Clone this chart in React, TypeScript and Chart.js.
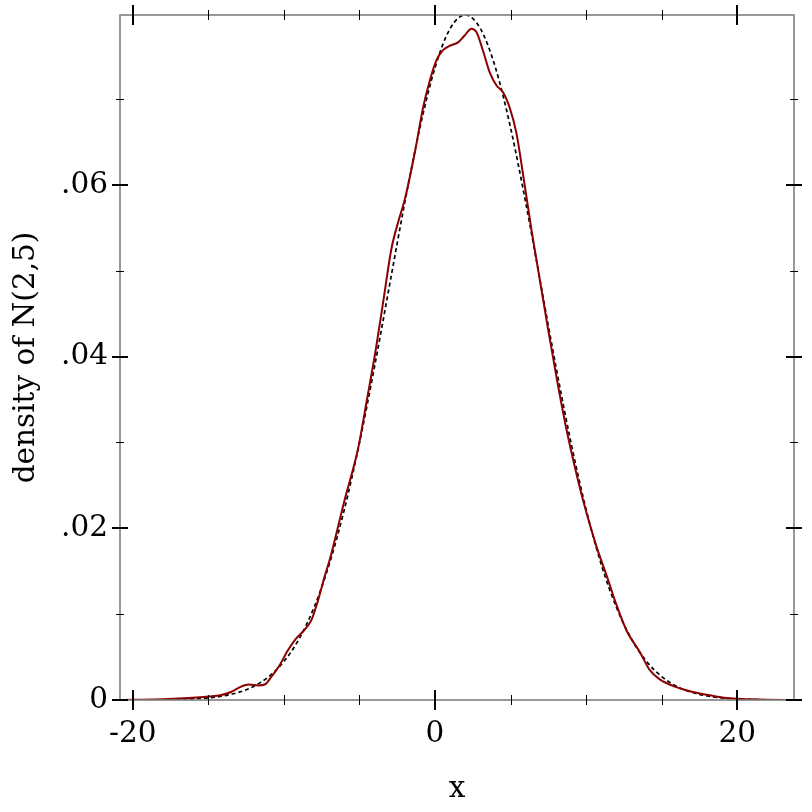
import React, { useEffect, useRef } from "react";
import { Chart, registerables } from "chart.js";

Chart.register(...registerables);

// ---- axis ranges & ticks ----
const X_MIN = -20.84;
const X_MAX = 23.75;
const Y_MIN = 0;
const Y_MAX = 0.07979;

const xMajorTicks = [-20, 0, 20];
const xMajorLabels = ["-20", "0", "20"];
const xMinorTicks = [-15, -10, -5, 5, 10, 15];

const yMajorTicks = [0, 0.02, 0.04, 0.06];
const yMajorLabels = ["0", ".02", ".04", ".06"];
const yMinorTicks = [0.01, 0.03, 0.05, 0.07];

const xTitle = "x";
const yTitle = "density of N(2,5)";

// ---- kernel density estimate (solid dark red) ----
const kdeX = [
  -20.84, -20, -18, -16, -15, -14.2, -13.5, -12.9, -12.3, -11.7, -11.27, -10.83,
  -10.3, -9.73, -9.17, -8.62, -8.18, -7.74, -7.3, -6.97, -5.98, -5.1, -4.5, -3.92,
  -3.4, -2.89, -2.45, -2.0, -1.3, -0.79, -0.35, 0.09, 0.53, 0.97, 1.52, 1.96, 2.41,
  2.74, 3.18, 3.62, 4.06, 4.5, 4.94, 5.39, 5.87, 6.38, 6.93, 7.48, 8.07, 8.7, 9.46,
  10.02, 10.68, 11.45, 11.9, 12.67, 13.55, 14.2, 14.87, 15.97, 17.07, 18.18, 19.28,
  20.8, 22, 23.75,
];
const kdeY = [
  0, 0.00002, 0.00008, 0.00025, 0.0004, 0.00055, 0.00093, 0.0015, 0.0018, 0.0017,
  0.0018, 0.0027, 0.004, 0.0058, 0.0072, 0.0082, 0.0093, 0.0116, 0.0144, 0.0163,
  0.0233, 0.0292, 0.035, 0.0408, 0.0467, 0.0525, 0.0556, 0.0583, 0.0641, 0.069,
  0.0721, 0.0745, 0.0757, 0.0762, 0.0766, 0.0774, 0.0782, 0.0778, 0.0756, 0.0731,
  0.0716, 0.0708, 0.069, 0.066, 0.0607, 0.0548, 0.049, 0.0432, 0.0373, 0.0315,
  0.0256, 0.0218, 0.0179, 0.014, 0.0116, 0.0081, 0.0056, 0.0035, 0.0024, 0.0015,
  0.00093, 0.00055, 0.00023, 0.0001, 0.00002, 0,
];

// ---- reference density N(2,5) (dotted black) ----
const normX = [
  -20.84, -20, -19, -18, -17, -16, -15, -14, -13, -12, -11, -10, -9, -8, -7, -6, -5,
  -4, -3, -2, -1, 0, 1, 2, 3, 4, 5, 6, 7, 8, 9, 10, 11, 12, 13, 14, 15, 16, 17, 18,
  19, 20, 21, 22, 23, 23.75,
];
const normY = [
  0.000004, 0.000005, 0.000012, 0.000027, 0.000058, 0.000122, 0.000246, 0.000476,
  0.000886, 0.001583, 0.002717, 0.004479, 0.007095, 0.010798, 0.01579, 0.022184,
  0.029945, 0.038837, 0.048394, 0.057938, 0.066645, 0.073654, 0.078209, 0.079788,
  0.078209, 0.073654, 0.066645, 0.057938, 0.048394, 0.038837, 0.029945, 0.022184,
  0.01579, 0.010798, 0.007095, 0.004479, 0.002717, 0.001583, 0.000886, 0.000476,
  0.000246, 0.000122, 0.000058, 0.000027, 0.000012, 0.000007,
];

const FONT = "'DejaVu Serif', serif";
const FONT_SIZE = 29.5;

const framePlugin = {
  id: "frameTicks",
  afterDraw(chart: any) {
    const { ctx, chartArea } = chart;
    const xs = chart.scales.x;
    const ys = chart.scales.y;
    const { left, right, top, bottom } = chartArea;
    ctx.save();
    ctx.strokeStyle = "#808080";
    ctx.lineWidth = 1.6;
    ctx.strokeRect(left, top, right - left, bottom - top);

    ctx.strokeStyle = "#000";
    const vt = (px: number, y: number, half: number, w: number) => {
      ctx.lineWidth = w;
      ctx.beginPath();
      ctx.moveTo(px, y - half);
      ctx.lineTo(px, y + half);
      ctx.stroke();
    };
    const ht = (py: number, x: number, half: number, w: number) => {
      ctx.lineWidth = w;
      ctx.beginPath();
      ctx.moveTo(x - half, py);
      ctx.lineTo(x + half, py);
      ctx.stroke();
    };
    xMajorTicks.forEach((v) => {
      const px = Math.round(xs.getPixelForValue(v));
      vt(px, bottom, 10, 2);
      vt(px, top, 10, 2);
    });
    xMinorTicks.forEach((v) => {
      const px = Math.round(xs.getPixelForValue(v)) + 0.5;
      vt(px, bottom, 5, 1);
      vt(px, top, 5, 1);
    });
    yMajorTicks.forEach((v) => {
      const py = Math.round(ys.getPixelForValue(v));
      ht(py, left, 8, 2);
      ht(py, right, 8, 2);
    });
    yMinorTicks.forEach((v) => {
      const py = Math.round(ys.getPixelForValue(v)) + 0.5;
      ht(py, left, 4, 1);
      ht(py, right, 4, 1);
    });
    ctx.restore();
  },
};

export default function App() {
  const ref = useRef<HTMLCanvasElement | null>(null);

  useEffect(() => {
    if (!ref.current) return;
    const kde = kdeX.map((x, i) => ({ x, y: kdeY[i] }));
    const norm = normX.map((x, i) => ({ x, y: normY[i] }));
    const chart = new Chart(ref.current, {
      type: "line",
      data: {
        datasets: [
          {
            label: "kde",
            data: kde,
            borderColor: "#8b0000",
            borderWidth: 2,
            pointRadius: 0,
            fill: false,
            cubicInterpolationMode: "monotone",
          },
          {
            label: "N(2,5)",
            data: norm,
            borderColor: "#000000",
            borderWidth: 1.7,
            borderDash: [4, 3],
            pointRadius: 0,
            fill: false,
            cubicInterpolationMode: "monotone",
          },
        ],
      },
      options: {
        animation: false,
        responsive: false,
        parsing: false,
        layout: { padding: { top: 15, right: 18, left: 0, bottom: 0 } },
        plugins: {
          legend: { display: false },
          tooltip: { enabled: false },
        },
        scales: {
          x: {
            type: "linear",
            min: X_MIN,
            max: X_MAX,
            afterBuildTicks: (s: any) => {
              s.ticks = xMajorTicks.map((v) => ({ value: v }));
            },
            afterFit: (s: any) => {
              s.height = 112;
              s.paddingLeft = 0;
              s.paddingRight = 0;
              s.paddingTop = 0;
              s.paddingBottom = 0;
            },
            grid: { display: false, drawTicks: false },
            border: { display: false },
            ticks: {
              autoSkip: false,
              maxRotation: 0,
              padding: 17,
              color: "#000",
              font: { family: FONT, size: FONT_SIZE },
              callback: (v: any) => {
                const i = xMajorTicks.indexOf(Number(v));
                return i >= 0 ? xMajorLabels[i] : "";
              },
            },
            title: {
              display: true,
              text: xTitle,
              color: "#000",
              font: { family: FONT, size: FONT_SIZE },
              padding: { top: 0, bottom: 5 },
            },
          },
          y: {
            type: "linear",
            min: Y_MIN,
            max: Y_MAX,
            afterBuildTicks: (s: any) => {
              s.ticks = yMajorTicks.map((v) => ({ value: v }));
            },
            afterFit: (s: any) => {
              s.width = 120;
              s.paddingLeft = 0;
              s.paddingRight = 0;
              s.paddingTop = 0;
              s.paddingBottom = 0;
            },
            grid: { display: false, drawTicks: false },
            border: { display: false },
            ticks: {
              autoSkip: false,
              padding: 12,
              color: "#000",
              font: { family: FONT, size: FONT_SIZE },
              callback: (v: any) => {
                const i = yMajorTicks.findIndex((t) => Math.abs(t - Number(v)) < 1e-9);
                return i >= 0 ? yMajorLabels[i] : "";
              },
            },
            title: {
              display: true,
              text: yTitle,
              color: "#000",
              font: { family: FONT, size: FONT_SIZE },
              padding: { top: 9, bottom: 0 },
            },
          },
        },
      },
      plugins: [framePlugin],
    } as any);
    return () => chart.destroy();
  }, []);

  return (
    <div style={{ position: "absolute", left: 0, top: 0, width: 812, height: 812, background: "#fff" }}>
      <canvas ref={ref} width={812} height={812} style={{ display: "block" }} />
    </div>
  );
}
